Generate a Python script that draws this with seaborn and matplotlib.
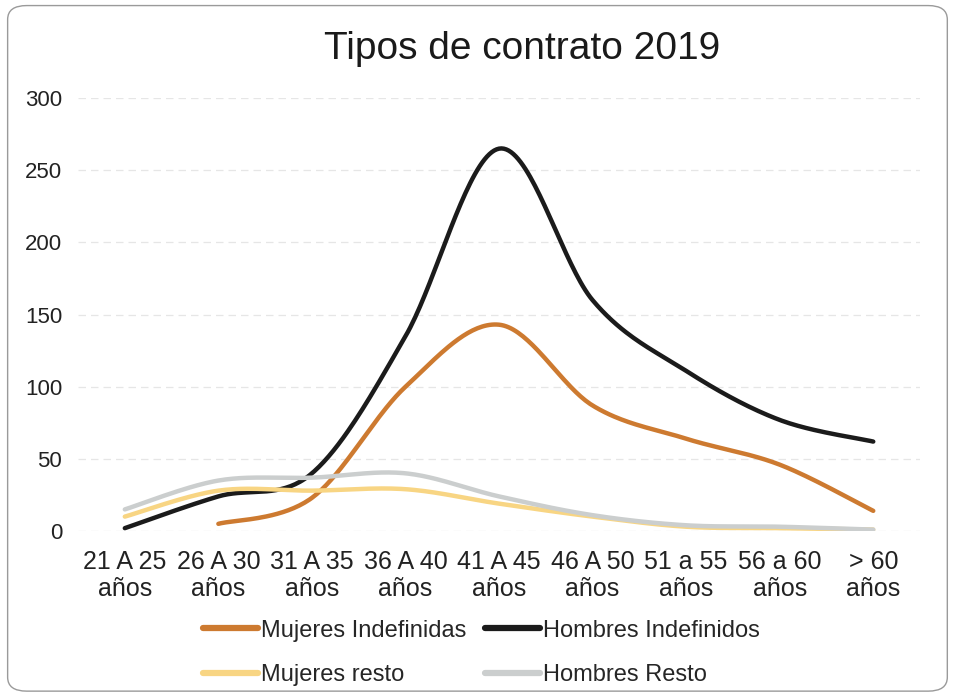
import numpy as np
import pandas as pd
import matplotlib
matplotlib.use("Agg")
import matplotlib.pyplot as plt
from matplotlib.patches import FancyBboxPatch
import seaborn as sns

# data
edades = ["21 A 25\naños", "26 A 30\naños", "31 A 35\naños", "36 A 40\naños",
          "41 A 45\naños", "46 A 50\naños", "51 a 55\naños", "56 a 60\naños",
          "> 60\naños"]
mujeres_indefinidas = [np.nan, 5, 23, 100, 143, 87, 64, 46, 14]
hombres_indefinidos = [2, 24, 40, 135, 265, 160, 111, 77, 62]
mujeres_resto = [10, 28, 28, 29, 19, 10, 3, 2, 1]
hombres_resto = [15, 35, 37, 40, 24, 11, 4, 3, 1]

series = {
    "Mujeres Indefinidas": mujeres_indefinidas,
    "Hombres Indefinidos": hombres_indefinidos,
    "Mujeres resto": mujeres_resto,
    "Hombres Resto": hombres_resto,
}
colores = {
    "Mujeres Indefinidas": "#CD7A30",
    "Hombres Indefinidos": "#1b1b1b",
    "Mujeres resto": "#F8D583",
    "Hombres Resto": "#CBCECE",
}


def suavizar(vals, n=40):
    # smooth line like the spreadsheet one (bezier through the points)
    x = np.arange(len(vals), dtype=float)
    y = np.array(vals, dtype=float)
    ok = ~np.isnan(y)
    x, y = x[ok], y[ok]
    pts = np.column_stack([x, y])
    out = []
    for i in range(len(pts) - 1):
        p0 = pts[i - 1] if i > 0 else pts[i]
        p1, p2 = pts[i], pts[i + 1]
        p3 = pts[i + 2] if i + 2 < len(pts) else pts[i + 1]
        c1 = p1 + (p2 - p0) / 6
        c2 = p2 - (p3 - p1) / 6
        t = np.linspace(0, 1, n)[:, None]
        seg = ((1 - t) ** 3) * p1 + 3 * ((1 - t) ** 2) * t * c1 + 3 * (1 - t) * t ** 2 * c2 + t ** 3 * p2
        out.append(seg if i == 0 else seg[1:])
    return np.vstack(out)


filas = []
for nombre, vals in series.items():
    curva = suavizar(vals)
    for k, (xx, yy) in enumerate(curva):
        filas.append({"serie": nombre, "x": xx, "y": yy, "orden": k})
df = pd.DataFrame(filas)

sns.set_theme(style="white")
plt.rcParams["font.family"] = ["Liberation Sans", "DejaVu Sans"]

fig = plt.figure(figsize=(9.54, 6.96), dpi=100)
ax = fig.add_axes([0.0818, 0.237, 0.8826, 0.622])

sns.lineplot(data=df, x="x", y="y", hue="serie", palette=colores,
             hue_order=list(series.keys()), sort=False, estimator=None,
             units="serie", linewidth=3.2, ax=ax, legend=False)
for ln in ax.lines:
    ln.set_solid_capstyle("round")

ax.set_xlim(-0.5, len(edades) - 0.5)
ax.set_ylim(0, 300)
ax.set_yticks(range(0, 301, 50))
ax.set_xticks(range(len(edades)))
ax.set_xticklabels(edades, fontsize=18, color="#222222", linespacing=1.15)
ax.tick_params(axis="y", labelsize=16, colors="#222222", pad=11.5, length=0)
ax.tick_params(axis="x", pad=14, length=0)
ax.set_xlabel("")
ax.set_ylabel("")
ax.grid(axis="y", color="#e6e6e6", linewidth=0.9, linestyle=(0, (6, 4)))
ax.set_axisbelow(True)
sns.despine(ax=ax, left=True, bottom=True)

fig.text(0.547, 0.929, "Tipos de contrato 2019", ha="center", va="center",
         fontsize=28, color="#1a1a1a")

# legend: two rows, two columns
orden = ["Mujeres Indefinidas", "Mujeres resto", "Hombres Indefinidos", "Hombres Resto"]
handles = [plt.Line2D([], [], color=colores[k], linewidth=4.5, solid_capstyle="round") for k in orden]
fig.legend(handles, orden, loc="center", bbox_to_anchor=(0.505, 0.062), ncol=2,
           frameon=False, fontsize=17, handlelength=2.3, handletextpad=0.15,
           columnspacing=0.8, labelspacing=0.95)

borde = FancyBboxPatch((0.008, 0.007), 0.985, 0.985, boxstyle="round,pad=0,rounding_size=0.02",
                       transform=fig.transFigure, facecolor="none", edgecolor="#9a9a9a",
                       linewidth=1.0)
fig.patches.append(borde)

fig.savefig("out.png", dpi=100)
